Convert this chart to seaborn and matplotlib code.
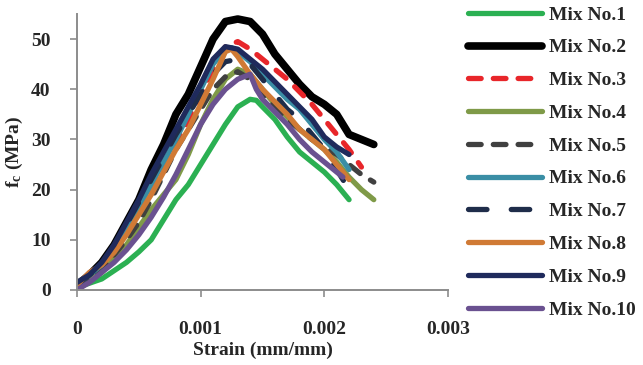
import pandas as pd
import seaborn as sns
import matplotlib
matplotlib.use('Agg')
import matplotlib.pyplot as plt

# ひずみ (mm/mm) と 応力 (MPa)
strain_1 = [0, 0.0002, 0.0004, 0.0005, 0.0006, 0.0007, 0.0008, 0.0009, 0.001, 0.0011, 0.0012, 0.0013,
            0.0014, 0.00145, 0.0015, 0.0016, 0.0017, 0.0018, 0.0019, 0.002, 0.0021, 0.0022]
stress_1 = [0.5, 2.2, 5.5, 7.6, 10, 14, 18, 21, 25, 29, 33, 36.5,
            38, 37.8, 36.5, 34, 30.5, 27.5, 25.5, 23.5, 21, 18]

strain_2 = [0, 0.0001, 0.0002, 0.0003, 0.0004, 0.0005, 0.0006, 0.0007, 0.0008, 0.0009, 0.001, 0.0011,
            0.0012, 0.0013, 0.0014, 0.0015, 0.0016, 0.0017, 0.0018, 0.0019, 0.002, 0.0021, 0.0022,
            0.0023, 0.0024]
stress_2 = [1, 3, 5.5, 9, 13.5, 18, 24, 29, 35, 39, 44.5, 50,
            53.5, 54, 53.5, 51, 47, 44, 41, 38.5, 37, 35, 31, 30, 29]

strain_3 = [0, 0.0002, 0.0004, 0.0006, 0.0008, 0.001, 0.0011, 0.0012, 0.0013, 0.0014, 0.0015, 0.0016,
            0.0017, 0.0018, 0.0019, 0.002, 0.0021, 0.0022, 0.0023]
stress_3 = [0.5, 4, 11, 20, 29, 39, 44, 48.5, 49.5, 48, 46, 44,
            42, 39.5, 37, 34, 31, 28, 24.5]

strain_4 = [0, 0.0002, 0.0004, 0.0006, 0.0008, 0.0009, 0.001, 0.0011, 0.0012, 0.0013, 0.0014, 0.0015,
            0.0016, 0.0017, 0.0018, 0.0019, 0.002, 0.0021, 0.0022, 0.0023, 0.0024]
stress_4 = [0.3, 3.5, 9, 16, 22, 27, 33, 38, 42, 44, 43, 40,
            37, 34.5, 32, 30, 28, 25.5, 22.5, 20, 18]

strain_5 = [0, 0.0002, 0.0004, 0.0005, 0.0006, 0.0007, 0.0008, 0.0009, 0.001, 0.0011, 0.0012, 0.0013,
            0.0014, 0.0015, 0.0016, 0.0017, 0.0018, 0.0019, 0.002, 0.0021, 0.0022, 0.0023, 0.0024]
stress_5 = [0.5, 4, 10, 13.5, 18, 23, 28, 32, 36, 40, 42.5, 43.5,
            42, 39, 36.5, 34, 32, 30, 28.5, 27, 25, 23, 21.5]

strain_6 = [0, 0.0002, 0.0004, 0.0006, 0.0008, 0.001, 0.0011, 0.0012, 0.00125, 0.0013, 0.0014, 0.0015,
            0.0016, 0.0017, 0.0018, 0.0019, 0.002, 0.0021, 0.0022]
stress_6 = [1, 5, 12, 21, 30, 40, 45, 48, 48.3, 47.5, 45.5, 43,
            40.5, 38, 36, 33, 30, 27.5, 24]

strain_7 = [0, 0.0002, 0.0004, 0.0006, 0.0008, 0.001, 0.0011, 0.0012, 0.0013, 0.0014, 0.0015, 0.0016,
            0.0017, 0.0018, 0.0019, 0.002, 0.0021, 0.0022]
stress_7 = [1, 5, 13, 22, 31, 39, 43, 45.5, 46, 45, 42, 39,
            36, 34, 31, 28, 24, 20]

strain_8 = [0, 0.0001, 0.0002, 0.0003, 0.0004, 0.0005, 0.0006, 0.0007, 0.0008, 0.0009, 0.001, 0.0011,
            0.0012, 0.00125, 0.0013, 0.0014, 0.0015, 0.0016, 0.0017, 0.0018, 0.0019, 0.002, 0.0021, 0.0022]
stress_8 = [1, 3.5, 5, 7.5, 11, 15, 19, 23.5, 28, 32, 37, 42,
            47.5, 48, 46.5, 43, 40, 37.5, 35, 32, 30, 28, 25, 22]

strain_9 = [0, 0.0001, 0.0002, 0.0003, 0.0004, 0.0005, 0.0006, 0.0007, 0.0008, 0.0009, 0.001, 0.0011,
            0.0012, 0.0013, 0.0014, 0.0015, 0.0016, 0.0017, 0.0018, 0.0019, 0.002, 0.0021, 0.0022]
stress_9 = [1.5, 3, 5.5, 9, 13.5, 18, 23, 27.5, 32, 36.5, 41, 46,
            48.5, 48, 46, 44, 41.5, 39, 36.5, 34, 30.5, 28.5, 27]

strain_10 = [0, 0.0001, 0.0002, 0.0003, 0.0004, 0.0005, 0.0006, 0.0007, 0.0008, 0.0009, 0.001, 0.0011,
             0.0012, 0.0013, 0.0014, 0.00145, 0.0015, 0.0016, 0.0017, 0.0018, 0.0019, 0.002, 0.0021, 0.00215]
stress_10 = [0, 1.5, 3.5, 5.5, 8, 11, 14.5, 18.5, 23, 28, 33, 37,
             40, 42, 43, 40, 38, 35.5, 33, 30, 27.5, 25.5, 23.5, 22.5]

labels = ['Mix No.1', 'Mix No.2', 'Mix No.3', 'Mix No.4', 'Mix No.5',
          'Mix No.6', 'Mix No.7', 'Mix No.8', 'Mix No.9', 'Mix No.10']
strains = [strain_1, strain_2, strain_3, strain_4, strain_5,
           strain_6, strain_7, strain_8, strain_9, strain_10]
stresses = [stress_1, stress_2, stress_3, stress_4, stress_5,
            stress_6, stress_7, stress_8, stress_9, stress_10]

colors = ['#2bb052', '#000000', '#e8262a', '#7f9a48', '#404040',
          '#3a8ea5', '#1f2d4a', '#d07a35', '#1f2a5c', '#6a5190']
# 線種 (線幅単位)
styles = ['-', '-', (0, (2.4, 2.3)), '-', (0, (2.4, 2.3)),
          '-', (0, (3.5, 4.6)), '-', '-', '-']
widths = [3.8, 5.5, 3.8, 3.8, 3.8, 3.8, 3.8, 3.8, 3.8, 3.8]

sns.set_theme(style='white')
plt.rcParams['font.family'] = ['Liberation Serif', 'DejaVu Serif']
plt.rcParams['font.weight'] = 'bold'
plt.rcParams['mathtext.fontset'] = 'custom'
plt.rcParams['mathtext.rm'] = 'Liberation Serif:bold'
plt.rcParams['mathtext.it'] = 'Liberation Serif:bold'
plt.rcParams['mathtext.bf'] = 'Liberation Serif:bold'

fig = plt.figure(figsize=(6.43, 3.65), dpi=100)
ax = fig.add_axes([77 / 643, 1 - 290 / 365, (448 - 77) / 643, (290 - 14) / 365])

for i in range(10):
    df = pd.DataFrame({'strain': strains[i], 'stress': stresses[i]})
    sns.lineplot(data=df, x='strain', y='stress', ax=ax, color=colors[i],
                 linewidth=widths[i], linestyle=styles[i], label=labels[i],
                 solid_capstyle='round', dash_capstyle='round', sort=False)

ax.set_xlim(0, 0.003)
ax.set_ylim(0, 55)
ax.set_xticks([0, 0.001, 0.002, 0.003])
ax.set_xticklabels(['0', '0.001', '0.002', '0.003'])
ax.set_yticks([0, 10, 20, 30, 40, 50])
ax.tick_params(axis='x', direction='out', length=5, width=1.2, color='#8c8c8c',
               pad=17, labelsize=14)
ax.tick_params(axis='y', direction='out', length=5, width=1.2, color='#8c8c8c',
               pad=14, labelsize=14)
ax.xaxis.set_ticks_position('bottom')
ax.yaxis.set_ticks_position('left')
for s in ['top', 'right']:
    ax.spines[s].set_visible(False)
for s in ['left', 'bottom']:
    ax.spines[s].set_color('#8c8c8c')
    ax.spines[s].set_linewidth(1.4)

ax.set_xlabel('Strain (mm/mm)', fontsize=14, fontweight='bold', labelpad=3)
ax.set_ylabel(r'$\mathrm{f_c}$ (MPa)', fontsize=14, fontweight='bold', labelpad=4)

ax.get_legend().remove()
handles, lbls = ax.get_legend_handles_labels()
fig.legend(handles, lbls, loc='upper left', bbox_to_anchor=(468 / 643, 1 - 6 / 365),
           bbox_transform=fig.transFigure, frameon=False, borderpad=0, borderaxespad=0,
           handlelength=3.8, handletextpad=0.35, labelspacing=0.78,
           prop={'family': 'Liberation Serif', 'weight': 'bold', 'size': 14})

fig.savefig('out.png', dpi=100)
